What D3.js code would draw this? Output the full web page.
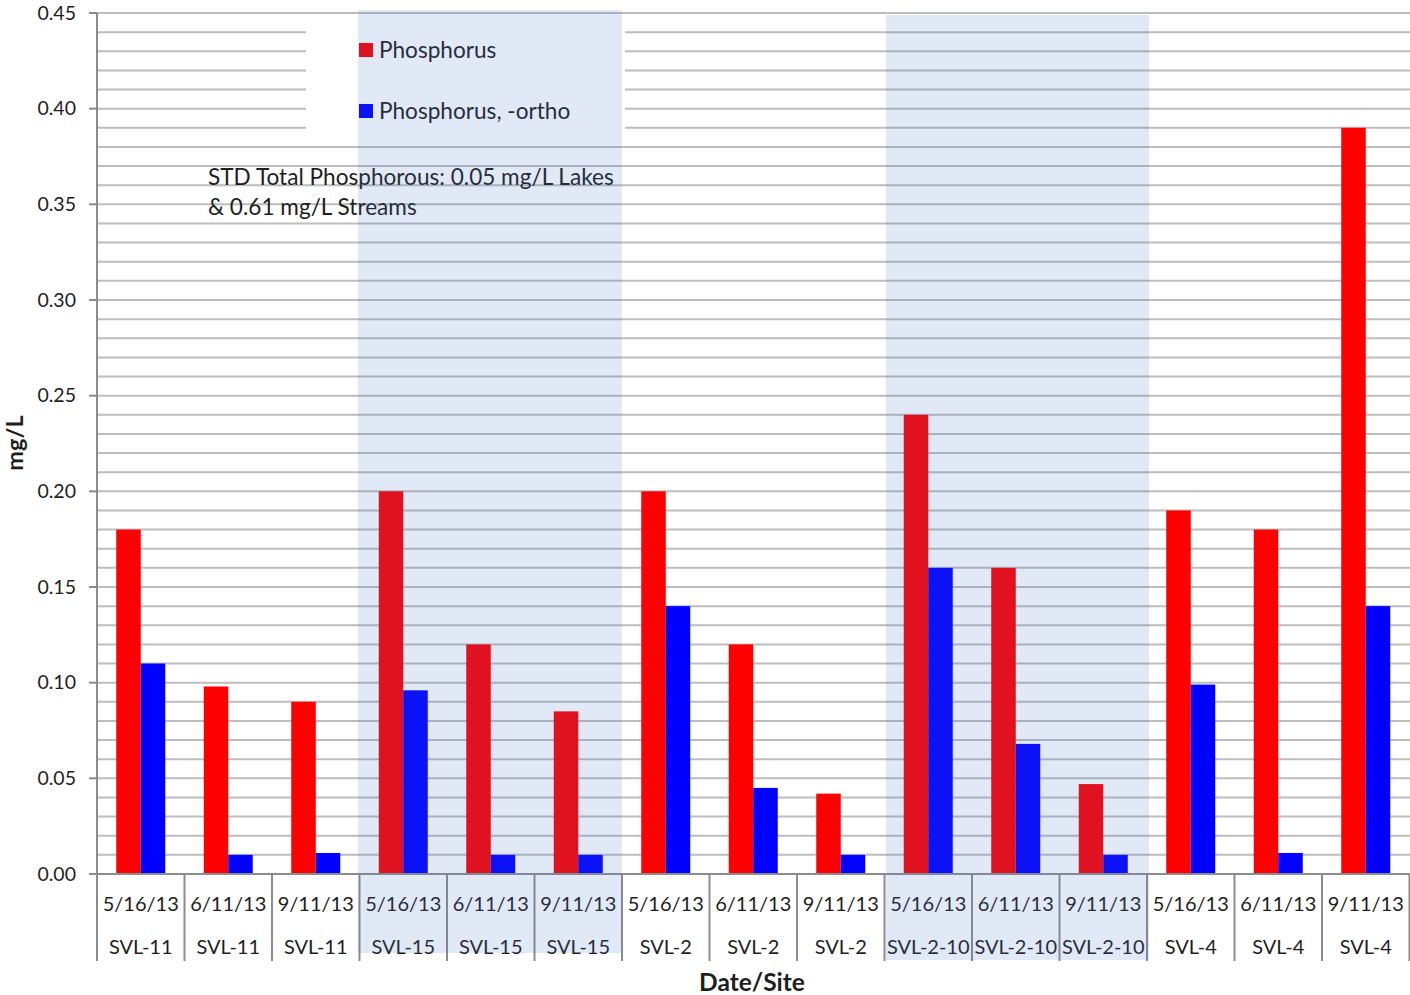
<!DOCTYPE html>
<html><head><meta charset="utf-8">
<script src="https://cdn.jsdelivr.net/npm/d3@7"></script>
<style>body{margin:0;background:#fff}svg{display:block}text{font-family:Lato,"Open Sans",sans-serif;fill:#1e1e1e}</style>
</head><body>
<svg id="c" width="1410" height="995"></svg>
<script>
const dates = ["5/16/13","6/11/13","9/11/13","5/16/13","6/11/13","9/11/13","5/16/13","6/11/13","9/11/13","5/16/13","6/11/13","9/11/13","5/16/13","6/11/13","9/11/13"];
const sites = ["SVL-11","SVL-11","SVL-11","SVL-15","SVL-15","SVL-15","SVL-2","SVL-2","SVL-2","SVL-2-10","SVL-2-10","SVL-2-10","SVL-4","SVL-4","SVL-4"];
const phosphorus = [0.18,0.098,0.09,0.20,0.12,0.085,0.20,0.12,0.042,0.24,0.16,0.047,0.19,0.18,0.39];
const orthoP = [0.11,0.01,0.011,0.096,0.01,0.01,0.14,0.045,0.01,0.16,0.068,0.01,0.099,0.011,0.14];
const seriesNames = ["Phosphorus","Phosphorus, -ortho"];
const seriesColors = ["#ff0000","#0000ff"];
const yTicks = [0,0.05,0.10,0.15,0.20,0.25,0.30,0.35,0.40,0.45];
const shadedSites = ["SVL-15","SVL-2-10"];
const noteLines = ["STD Total Phosphorous: 0.05 mg/L Lakes","& 0.61 mg/L Streams"];

(function(){
const svg = d3.select("#c");
const pLeft = 97, pRight = 1409.5, pTop = 13, pBottom = 874;
const idx = d3.range(dates.length);
const x = d3.scaleBand().domain(idx).range([pLeft, pRight]).paddingInner(0).paddingOuter(0);
const sub = d3.scaleBand().domain([0,1]).range([0, x.bandwidth()]).paddingInner(0).paddingOuter(0.786);
const y = d3.scaleLinear().domain([0,0.45]).range([pBottom, pTop]);

const grid = d3.range(1,46).map(i => i/100);
svg.append("g").selectAll("line").data(grid).join("line")
  .attr("x1", pLeft).attr("x2", 1410)
  .attr("y1", d => y(d)).attr("y2", d => y(d))
  .attr("stroke", "#bdbdbd").attr("stroke-width", 2);

svg.append("rect").attr("x",306).attr("y",20).attr("width",319).attr("height",116).attr("fill","#fff");

const series = [phosphorus, orthoP];
series.forEach((vals, s) => {
  svg.append("g").selectAll("rect").data(vals).join("rect")
    .attr("x", (d,i) => x(i) + sub(s))
    .attr("width", sub.bandwidth())
    .attr("y", d => y(d))
    .attr("height", d => y(0) - y(d))
    .attr("fill", seriesColors[s]);
});

svg.append("line").attr("x1",pLeft).attr("x2",pLeft).attr("y1",pTop).attr("y2",pBottom).attr("stroke","#8c8c8c").attr("stroke-width",2);
svg.append("line").attr("x1",89).attr("x2",1410).attr("y1",pBottom).attr("y2",pBottom).attr("stroke","#8c8c8c").attr("stroke-width",2);
svg.append("g").selectAll("line").data(yTicks).join("line")
  .attr("x1",89).attr("x2",pLeft).attr("y1",d=>y(d)).attr("y2",d=>y(d))
  .attr("stroke","#8c8c8c").attr("stroke-width",2);
svg.append("g").selectAll("text").data(yTicks).join("text")
  .attr("x",76).attr("y",d=>y(d)).attr("dy","0.35em").attr("text-anchor","end")
  .attr("font-size",19.5).text(d=>d3.format(".2f")(d));

const bounds = idx.map(i => x(i)).concat([pRight]);
svg.append("g").selectAll("line").data(bounds).join("line")
  .attr("x1",d=>d).attr("x2",d=>d).attr("y1",pBottom).attr("y2",961)
  .attr("stroke","#8c8c8c").attr("stroke-width",2);

svg.append("g").selectAll("text").data(idx).join("text")
  .attr("x", i => x(i) + x.bandwidth()/2).attr("y", 904).attr("dy","0.35em")
  .attr("text-anchor","middle").attr("font-size",20).text(i => dates[i]);
svg.append("g").selectAll("text").data(idx).join("text")
  .attr("x", i => x(i) + x.bandwidth()/2).attr("y", 947).attr("dy","0.35em")
  .attr("text-anchor","middle").attr("font-size",20).text(i => sites[i]);

svg.append("text").attr("transform","translate(15,443) rotate(-90)").attr("dy","0.35em")
  .attr("text-anchor","middle").attr("font-size",23.5).attr("font-weight","bold").text("mg/L");
svg.append("text").attr("x",752).attr("y",982).attr("dy","0.35em")
  .attr("text-anchor","middle").attr("font-size",24.5).attr("font-weight","bold").text("Date/Site");

const legY = [50, 111];
seriesNames.forEach((n, s) => {
  svg.append("rect").attr("x",359).attr("y",legY[s]-7).attr("width",14).attr("height",14).attr("fill",seriesColors[s]);
  svg.append("text").attr("x",379).attr("y",legY[s]).attr("dy","0.35em").attr("font-size",22.6).text(n);
});

noteLines.forEach((t, i) => {
  svg.append("text").attr("x",208).attr("y",177 + i*30).attr("dy","0.35em").attr("font-size",22.6).text(t);
});

const shadeY = {"SVL-15":[10,953], "SVL-2-10":[15,960]};
const shadeDX = {"SVL-15":[-1.5,0], "SVL-2-10":[1.5,2]};
shadedSites.forEach(site => {
  const ids = idx.filter(i => sites[i] === site);
  const x0 = x(d3.min(ids)) + shadeDX[site][0], x1 = x(d3.max(ids)) + x.bandwidth() + shadeDX[site][1];
  svg.append("rect").attr("x",x0).attr("y",shadeY[site][0]).attr("width",x1-x0)
    .attr("height",shadeY[site][1]-shadeY[site][0]).attr("fill","rgb(68,114,196)").attr("fill-opacity",0.16);
});
})();
</script>
</body></html>
